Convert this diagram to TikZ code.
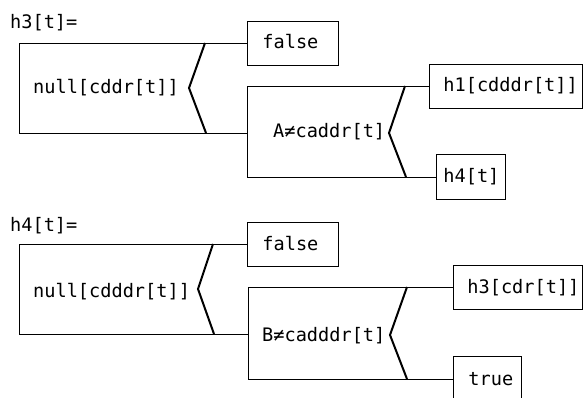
\documentclass[tikz,border=0pt]{standalone}
\usepackage{fontspec}
\setmonofont{DejaVu Sans Mono}
\begin{document}
\begin{tikzpicture}[x=1pt,y=-1pt,
  every node/.style={font=\ttfamily\fontsize{18.6}{22}\selectfont, inner sep=0pt},
  txt/.style={anchor=base west},
  leaf/.style={draw, line width=0.9pt, anchor=west, minimum height=44pt,
               align=left, text height=15pt, text depth=3pt},
  wire/.style={line width=0.9pt},
  fork/.style={line width=2pt, line join=miter}]
\useasboundingbox (0,0) rectangle (586,398);
\clip (0,0) rectangle (586,398);

% ---------- h3[t] ----------
\node[txt] (h3def) at (10,29) {h3[t]=};
\node[txt] (c1) at (33,94) {null[cddr[t]]};
\node[txt] (c2) at (273,138) {A≠caddr[t]};
\node[leaf, text width=61pt, inner xsep=15pt] (f1) at (247,43) {false};
\node[leaf, text width=125pt, inner xsep=14pt] (h1) at (429,86) {h1[cdddr[t]]};
\node[leaf, text width=55pt, inner xsep=7pt, minimum height=45pt] (h4) at (436,177) {h4[t]};

\coordinate (o1t) at (19,43);
\coordinate (o1b) at (19,133);
\coordinate (i1t) at (247,86);
\coordinate (i1m) at (247,133);
\coordinate (i1b) at (247,177);
\coordinate (k1t) at (205,43);
\coordinate (k1m) at (189,88);
\coordinate (k1b) at (206,133);
\coordinate (k2t) at (405,86);
\coordinate (k2m) at (389,133);
\coordinate (k2b) at (406,177);

\draw[wire] (f1.west) -- (o1t) -- (o1b) -- (i1m);
\draw[wire] (h1.west) -- (i1t) -- (i1b) -- (h4.west);
\draw[fork] (k1t) -- (k1m) -- (k1b);
\draw[fork] (k2t) -- (k2m) -- (k2b);

% ---------- h4[t] ----------
\node[txt] (h4def) at (10,231) {h4[t]=};
\node[txt] (c3) at (33,297) {null[cdddr[t]]};
\node[txt] (c4) at (262,341) {B≠cadddr[t]};
\node[leaf, text width=61pt, inner xsep=15pt] (f2) at (247,244) {false};
\node[leaf, text width=101pt, inner xsep=14pt] (h3) at (453,287) {h3[cdr[t]]};
\node[leaf, text width=38pt, inner xsep=15pt, minimum height=46pt] (tr) at (453,379) {true};

\coordinate (o2t) at (19,244);
\coordinate (o2b) at (19,334);
\coordinate (i2t) at (248,287);
\coordinate (i2m) at (248,334);
\coordinate (i2b) at (248,379);
\coordinate (k3t) at (213,244);
\coordinate (k3m) at (198,289);
\coordinate (k3b) at (214,334);
\coordinate (k4t) at (407,287);
\coordinate (k4m) at (390,335);
\coordinate (k4b) at (407,379);

\draw[wire] (f2.west) -- (o2t) -- (o2b) -- (i2m);
\draw[wire] (h3.west) -- (i2t) -- (i2b) -- (tr.west);
\draw[fork] (k3t) -- (k3m) -- (k3b);
\draw[fork] (k4t) -- (k4m) -- (k4b);
\end{tikzpicture}
\end{document}
